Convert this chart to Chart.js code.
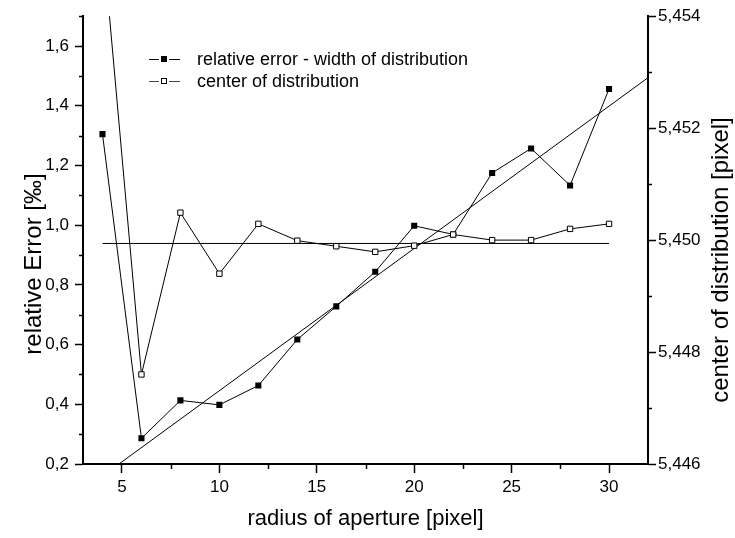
<!DOCTYPE html>
<html>
<head>
<meta charset="utf-8">
<title>relative error vs radius of aperture</title>
<script src="https://cdn.jsdelivr.net/npm/chart.js@4.4.1/dist/chart.umd.min.js"></script>
<style>
  html, body { margin: 0; padding: 0; background: #fff; }
  #wrap { width: 735px; height: 538px; }
</style>
</head>
<body>
<div id="wrap"><canvas id="c" width="735" height="538"></canvas></div>
<script>
// aperture radius [pixel]
const radius = [4, 6, 8, 10, 12, 14, 16, 18, 20, 22, 24, 26, 28, 30];
// relative error (width of distribution) [‰]
const relError = [1.305, 0.286, 0.413, 0.398, 0.463, 0.617, 0.728, 0.844, 0.998, 0.969, 1.175, 1.257, 1.133, 1.456];
// center of distribution [pixel]; the r = 4 value lies above the axis range
const centerPos = [5.4554, 5.44760, 5.45049, 5.44940, 5.45029, 5.44999, 5.44989, 5.44979, 5.44990, 5.45010, 5.45000, 5.45000, 5.45020, 5.45029];
// linear fit of the relative error (end points)
const fitX = [3, 32];
const fitY = [0.112, 1.494];
// mean center of distribution
const meanX = [4, 30];
const meanY = [5.44994, 5.44994];

// axis ticks
const xTicks = [5, 10, 15, 20, 25, 30];
const xMinor = [7.5, 12.5, 17.5, 22.5, 27.5];
const leftTicks = [0.2, 0.4, 0.6, 0.8, 1.0, 1.2, 1.4, 1.6];
const leftMinor = [0.3, 0.5, 0.7, 0.9, 1.1, 1.3, 1.5, 1.7];
const rightTicks = [5.446, 5.448, 5.450, 5.452, 5.454];
const rightMinor = [5.447, 5.449, 5.451, 5.453];

const seriesNames = ['relative error - width of distribution', 'center of distribution'];

const FONT = "Arial, 'Liberation Sans', sans-serif";

const pairs = (xs, ys) => xs.map((x, i) => ({ x: x, y: ys[i] }));

// short minor ticks, y-axis titles and the inset legend
const decorations = {
  id: 'decorations',
  afterDraw(chart) {
    const ctx = chart.ctx;
    const a = chart.chartArea;
    const sx = chart.scales.x, sy = chart.scales.y, sy2 = chart.scales.y2;
    ctx.save();
    ctx.strokeStyle = '#000';
    ctx.lineWidth = 1.5;
    ctx.beginPath();
    xMinor.forEach(v => { const p = Math.round(sx.getPixelForValue(v)) + 0.5; ctx.moveTo(p, a.bottom); ctx.lineTo(p, a.bottom + 5); });
    leftMinor.forEach(v => { const p = Math.round(sy.getPixelForValue(v)) + 0.5; ctx.moveTo(a.left, p); ctx.lineTo(a.left - 4, p); });
    rightMinor.forEach(v => { const p = Math.round(sy2.getPixelForValue(v)) + 0.5; ctx.moveTo(a.right, p); ctx.lineTo(a.right + 4, p); });
    ctx.stroke();

    // y-axis titles
    ctx.fillStyle = '#000';
    ctx.font = '24px ' + FONT;
    ctx.textAlign = 'center';
    ctx.textBaseline = 'middle';
    ctx.save();
    ctx.translate(34, 264);
    ctx.rotate(-Math.PI / 2);
    ctx.fillText('relative Error [‰]', 0, 0);
    ctx.restore();
    ctx.save();
    ctx.translate(721, 260);
    ctx.rotate(-Math.PI / 2);
    ctx.fillText('center of distribution [pixel]', 0, 0);
    ctx.restore();

    // legend
    const rows = [59, 81];
    ctx.font = '18px ' + FONT;
    ctx.textAlign = 'left';
    rows.forEach((y, i) => {
      ctx.strokeStyle = i === 0 ? '#000' : '#444';
      ctx.lineWidth = 1;
      ctx.beginPath();
      ctx.moveTo(149, y + 0.5); ctx.lineTo(159, y + 0.5);
      ctx.moveTo(169, y + 0.5); ctx.lineTo(180, y + 0.5);
      ctx.stroke();
      if (i === 0) {
        ctx.fillStyle = '#000';
        ctx.fillRect(161, y - 3, 6, 6);
      } else {
        ctx.fillStyle = '#fff';
        ctx.fillRect(161.5, y - 2.5, 5, 5);
        ctx.strokeStyle = '#000';
        ctx.strokeRect(161.5, y - 2.5, 5, 5);
      }
      ctx.fillStyle = '#000';
      ctx.fillText(seriesNames[i], 197, y + 1);
    });
    ctx.restore();
  }
};

const axisCommon = {
  border: { display: true, color: '#000', width: 2 },
  grid: { drawOnChartArea: false, drawTicks: true, tickLength: 8, tickColor: '#000', tickWidth: 1.5 },
};

new Chart(document.getElementById('c'), {
  type: 'line',
  data: {
    datasets: [
      {
        label: seriesNames[1],
        data: pairs(radius, centerPos),
        yAxisID: 'y2',
        borderColor: '#000',
        borderWidth: 1,
        pointStyle: 'rect',
        pointRadius: 3.8,
        pointBackgroundColor: '#fff',
        pointBorderColor: '#000',
        pointBorderWidth: 1,
        tension: 0,
        clip: 0,
        order: 0
      },
      {
        label: seriesNames[0],
        data: pairs(radius, relError),
        yAxisID: 'y',
        borderColor: '#000',
        borderWidth: 1,
        pointStyle: 'rect',
        pointRadius: 4.3,
        pointBackgroundColor: '#000',
        pointBorderColor: '#000',
        pointBorderWidth: 0,
        tension: 0,
        clip: 0,
        order: 1
      },
      {
        label: 'fit',
        data: pairs(fitX, fitY),
        yAxisID: 'y',
        borderColor: '#000',
        borderWidth: 1,
        pointRadius: 0,
        clip: 0,
        order: 2
      },
      {
        label: 'mean',
        data: pairs(meanX, meanY),
        yAxisID: 'y2',
        borderColor: '#000',
        borderWidth: 1,
        pointRadius: 0,
        clip: 0,
        order: 3
      }
    ]
  },
  options: {
    responsive: false,
    animation: false,
    devicePixelRatio: 1,
    layout: { padding: { top: 12, left: 0, right: 0, bottom: 0 } },
    plugins: { legend: { display: false }, tooltip: { enabled: false } },
    scales: {
      x: {
        type: 'linear',
        min: 3,
        max: 32,
        ...axisCommon,
        grid: { ...axisCommon.grid, tickLength: 9 },
        afterBuildTicks: s => { s.ticks = xTicks.map(v => ({ value: v })); },
        afterFit: s => { s.height = 74; },
        ticks: { color: '#000', font: { family: FONT, size: 17 }, padding: 4, maxRotation: 0 },
        title: { display: true, text: 'radius of aperture [pixel]', color: '#000', font: { family: FONT, size: 22 }, padding: { top: 0, bottom: 6 } }
      },
      y: {
        type: 'linear',
        position: 'left',
        min: 0.2,
        max: 1.7,
        ...axisCommon,
        afterBuildTicks: s => { s.ticks = leftTicks.map(v => ({ value: v })); },
        afterFit: s => { s.width = 83; },
        ticks: { color: '#000', font: { family: FONT, size: 17 }, padding: 6, callback: v => v.toFixed(1).replace('.', ',') }
      },
      y2: {
        type: 'linear',
        position: 'right',
        min: 5.446,
        max: 5.454,
        ...axisCommon,
        afterBuildTicks: s => { s.ticks = rightTicks.map(v => ({ value: v })); },
        afterFit: s => { s.width = 87; },
        ticks: { color: '#000', font: { family: FONT, size: 17 }, padding: 2, callback: v => v.toFixed(3).replace('.', ',') }
      }
    }
  },
  plugins: [decorations]
});
</script>
</body>
</html>
